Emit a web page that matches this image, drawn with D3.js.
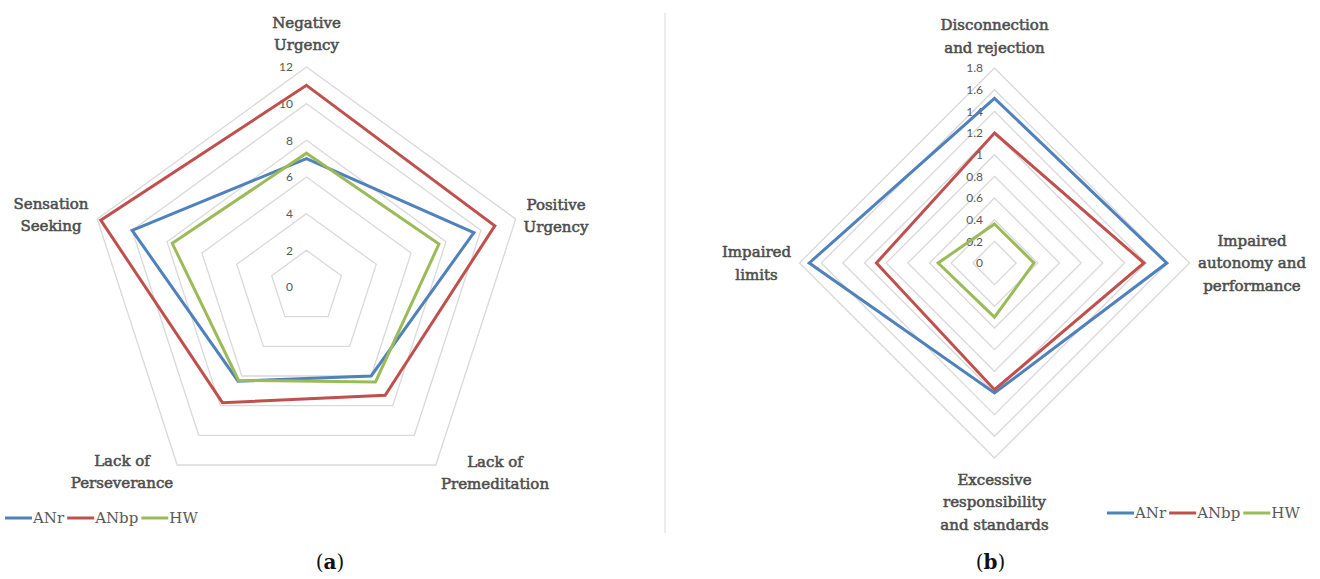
<!DOCTYPE html>
<html>
<head>
<meta charset="utf-8">
<script src="https://cdn.jsdelivr.net/npm/d3@7"></script>
<style>
  html, body { margin: 0; padding: 0; background: #fff; }
  svg { display: block; }
</style>
</head>
<body>
<svg id="chart" width="1320" height="579"></svg>
<script>
// ---------- DATA ----------
const seriesNames = ["ANr", "ANbp", "HW"];

const leftAxes = ["Negative Urgency", "Positive Urgency", "Lack of Premeditation", "Lack of Perseverance", "Sensation Seeking"];
const leftANr  = [7.0, 9.6, 6.0, 6.35, 10.0];
const leftANbp = [11.0, 10.8, 7.3, 7.8, 11.8];
const leftHW   = [7.3, 7.6, 6.4, 6.3, 7.7];
const leftTicks = [0, 2, 4, 6, 8, 10, 12];

const rightAxes = ["Disconnection and rejection", "Impaired autonomy and performance", "Excessive responsibility and standards", "Impaired limits"];
const rightANr  = [1.52, 1.59, 1.2, 1.71];
const rightANbp = [1.2, 1.38, 1.17, 1.09];
const rightHW   = [0.36, 0.365, 0.5, 0.52];
const rightTicks = [0, 0.2, 0.4, 0.6, 0.8, 1, 1.2, 1.4, 1.6, 1.8];

const leftLabelLines = [["Negative", "Urgency"], ["Positive", "Urgency"], ["Lack of", "Premeditation"], ["Lack of", "Perseverance"], ["Sensation", "Seeking"]];
const rightLabelLines = [["Disconnection", "and rejection"], ["Impaired", "autonomy and", "performance"], ["Excessive", "responsibility", "and standards"], ["Impaired", "limits"]];

// ---------- STYLE / LAYOUT ----------
const colors = ["#4F81BD", "#C0504D", "#9BBB59"];
const gridColor = "#d9d9d9";
const textColor = "#595959";
const labelFont = "'DejaVu Serif', serif";
const tickFont = "Lato, 'Open Sans', sans-serif";

const svg = d3.select("#chart");

function radar(cfg) {
  const n = cfg.axes.length;
  const r = d3.scaleLinear().domain([0, cfg.max]).range([0, cfg.R]);
  const g = svg.append("g").attr("transform", `translate(${cfg.cx},${cfg.cy})`);
  const ang = i => i * 2 * Math.PI / n;
  const ring = d3.lineRadial().angle((d, i) => ang(i)).radius(d => r(d)).curve(d3.curveLinearClosed);

  // grid rings
  g.selectAll("path.grid").data(cfg.ticks.filter(t => t > 0)).join("path")
    .attr("class", "grid")
    .attr("d", t => ring(d3.range(n).map(() => t)))
    .attr("fill", "none").attr("stroke", gridColor).attr("stroke-width", 1.3);

  // tick labels
  g.selectAll("text.tick").data(cfg.ticks).join("text")
    .attr("class", "tick")
    .attr("x", -cfg.tickOffset)
    .attr("y", t => -r(t))
    .attr("dy", "0.35em")
    .attr("text-anchor", "end")
    .attr("font-family", tickFont).attr("font-size", 12).attr("fill", textColor)
    .text(t => String(+t.toFixed(1)));

  // series
  cfg.series.forEach((vals, si) => {
    g.append("path")
      .attr("d", ring(vals))
      .attr("fill", "none")
      .attr("stroke", colors[si])
      .attr("stroke-width", 3)
      .attr("stroke-linejoin", "miter");
  });

  // axis labels
  cfg.labelLines.forEach((lines, i) => {
    const p = cfg.labelPos[i];
    const t = g.append("text")
      .attr("text-anchor", "middle")
      .attr("font-family", labelFont).attr("font-size", 15)
      .attr("fill", "#4d4d4d").attr("stroke", "#4d4d4d").attr("stroke-width", 0.55);
    lines.forEach((ln, k) => {
      t.append("tspan").attr("x", p[0]).attr("y", p[1] + k * cfg.lineH).text(ln);
    });
  });

  // legend
  let x = cfg.legend[0];
  const ly = cfg.legend[1];
  const lg = svg.append("g");
  seriesNames.forEach((name, si) => {
    lg.append("line").attr("x1", x).attr("x2", x + 27).attr("y1", ly).attr("y2", ly)
      .attr("stroke", colors[si]).attr("stroke-width", 3);
    x += 28;
    const tt = lg.append("text").attr("x", x).attr("y", ly).attr("dy", "0.35em")
      .attr("font-family", labelFont).attr("font-size", 15).attr("fill", textColor)
      .text(name);
    x += tt.node().getComputedTextLength() + 3;
  });

  // caption
  const cap = svg.append("text").attr("x", cfg.caption[0]).attr("y", cfg.caption[1])
    .attr("text-anchor", "middle").attr("font-family", labelFont).attr("font-size", 20).attr("fill", "#111");
  cap.append("tspan").text("(");
  cap.append("tspan").attr("font-weight", "bold").text(cfg.captionLetter);
  cap.append("tspan").text(")");
}

radar({
  axes: leftAxes, series: [leftANr, leftANbp, leftHW], ticks: leftTicks, max: 12,
  cx: 306.5, cy: 287, R: 220, tickOffset: 13.5, lineH: 22,
  labelLines: leftLabelLines,
  labelPos: [[0, -259.5], [249.5, -77], [188.5, 180], [-184.5, 179], [-255.5, -78]],
  legend: [5, 518], caption: [330, 569], captionLetter: "a"
});

radar({
  axes: rightAxes, series: [rightANr, rightANbp, rightHW], ticks: rightTicks, max: 1.8,
  cx: 994.5, cy: 263, R: 195, tickOffset: 11.5, lineH: 22.5,
  labelLines: rightLabelLines,
  labelPos: [[0, -233], [257.5, -17.5], [0, 221.5], [-238, -5.7]],
  legend: [1107, 513], caption: [990.5, 569], captionLetter: "b"
});

// divider
svg.append("line").attr("x1", 665).attr("x2", 665).attr("y1", 12.7).attr("y2", 533)
  .attr("stroke", "#e6e6e6").attr("stroke-width", 1.5);
</script>
</body>
</html>
